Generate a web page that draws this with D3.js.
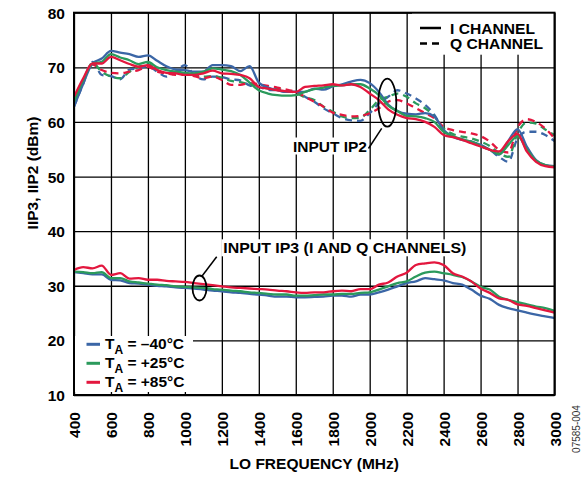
<!DOCTYPE html>
<html><head><meta charset="utf-8">
<script src="https://cdn.jsdelivr.net/npm/d3@7"></script>
<style>
body{margin:0;background:#fff}
svg text{font-family:"Liberation Sans",Arial,Helvetica,sans-serif;font-weight:bold;fill:#000}
</style>
</head><body>
<svg id="c" width="585" height="477"></svg>
<script>
// ---------- data ----------
const freqs = [400,450,500,550,600,650,700,750,800,850,900,950,1000,1050,1100,1150,1200,1250,1300,1350,1400,1450,1500,1550,1600,1650,1700,1750,1800,1850,1900,1950,2000,2050,2100,2150,2200,2250,2300,2350,2400,2450,2500,2550,2600,2650,2700,2750,2800,2850,2900,2950,3000];

const ip2I_m40 = [62.8,67,70.7,71.6,73,72.7,72.4,71.9,72.2,71.2,70.2,69.6,69.5,69.2,69.2,70.4,70.4,70.2,69.3,70.2,67.2,66.3,65.8,65.5,65.5,65.5,66.1,65.9,66.5,66.9,67.4,67.7,67.1,65.5,63.2,62,61.5,61.4,61.6,61,58.5,57.3,56.7,56.4,55.8,54.9,54,56.5,58.7,55.5,53,52.1,51.9];
const ip2I_p25 = [63.7,67.7,70.7,71,72.4,71.8,71.3,70.6,71,70,69.5,69.2,69,68.9,69.2,69.8,69.6,69.3,68.6,67.2,65.8,65.2,64.9,64.8,64.9,65.5,66,66.3,66.6,66.7,66.9,66.9,66.1,64.9,63,62,61.1,61,60.7,60,58.2,57.4,56.8,56.4,55.6,54.9,54.1,55.8,57.4,55,52.9,52.1,51.8];
const ip2I_p85 = [64.6,68,70.7,70.7,71.9,71.3,70.6,70.1,70.4,69.5,69,68.9,68.6,68.6,68.9,69.4,68.9,68.8,68.6,68,66.4,66.1,65.8,65.6,65.5,66.4,66.6,66.7,66.9,66.7,66.9,66.4,65.2,64,62.3,61.3,60.7,60.5,60,59.1,57.6,57.2,56.7,56.1,55.5,54.9,54.6,56.5,57.8,54.6,52.7,51.9,51.7];

const ip2Q_m40 = [62.8,67,71,68.6,68.4,67.8,69.6,69.8,70.2,69.2,68.3,69.2,70.4,68.6,67.8,68.3,68.2,67.8,67.6,66.7,66.4,65.9,65.8,65.5,65.5,64.6,63.7,62.5,61.6,60.7,60.3,60.2,61.6,63.4,64.6,65.8,65.2,64.3,63.1,61.3,58.5,57.3,56.8,56.4,55.6,54.9,53.6,52.7,57,58.2,58.2,57.6,56.5];
const ip2Q_p25 = [63.4,67.4,70.8,69.2,68.3,68,69.2,70.1,70.6,69.5,68.9,68.9,68.9,68.6,68.3,68.4,68.1,67.5,67.3,66.9,66.6,66.1,66,65.7,65.3,64.5,64,62.8,61.9,61,60.7,60.8,62.2,64,64.6,65.2,64.6,63.4,62.5,61,58.8,57.8,57.3,57,56.4,55.6,54.3,53.6,57.9,59.9,59.7,58.6,57.6];
const ip2Q_p85 = [64.3,67.7,70.5,69.5,69,68.9,69.2,69.5,70.1,69.2,68.9,68.6,68.8,68.4,68,68.3,67.7,66.8,66.8,67.1,66.9,66.6,66.3,65.9,65.5,64.6,63.7,62.8,61.7,61.3,61,61.1,61.6,62.5,63.7,64,63.4,62.5,61.6,60.7,59.1,58.5,58.2,57.9,57.4,56.4,54.9,54.4,59,60.5,60,58.8,57];

const ip3_m40 = [32.5,32.3,32.1,32.1,31.1,31,30.5,30.4,30.2,30,29.9,29.7,29.6,29.5,29.3,29.1,29,28.8,28.7,28.5,28.4,28.2,28,28,27.9,27.9,27.95,28,28.2,28.2,28,28.4,28.4,28.8,29.3,29.9,30.5,30.8,31.4,31.2,31,30.5,30.2,29.3,28.2,27.6,26.5,25.9,25.5,25.1,24.7,24.4,24.1];
const ip3_p25 = [32.6,32.5,32.3,32.5,31.4,31.4,30.8,30.6,30.4,30.2,30.1,29.9,29.8,29.7,29.6,29.4,29.3,29.1,29,28.8,28.7,28.5,28.4,28.4,28.2,28.2,28.3,28.4,28.4,28.5,28.5,28.7,28.8,29.3,29.9,30.5,30.8,31.7,32.4,32.6,32.3,32,31.6,30.8,29.8,29.3,28,27.4,27,26.6,26.2,25.9,25.4];
const ip3_p85 = [32.9,33.4,33.2,33.7,32,32.3,31.3,31.4,31.1,31.1,30.9,30.8,30.7,30.5,30.3,30.1,29.9,29.7,29.6,29.5,29.4,29.3,29.1,29,28.8,28.7,28.8,28.8,29,29.1,29,29.4,29.4,30.2,30.6,31.7,32.4,33.8,34.1,34.3,33.8,32.3,31.7,30.8,29.5,28.7,27.7,27.4,26.6,26.3,25.9,25.5,25.1];

const xTicks = [400,600,800,1000,1200,1400,1600,1800,2000,2200,2400,2600,2800,3000];
const yTicks = [10,20,30,40,50,60,70,80];
const tempLabels = ["–40°C","+25°C","+85°C"];
const channelLabels = ["I CHANNEL","Q CHANNEL"];
const colors = ["#3b66a6","#2b9a5c","#e3173e"];

// ---------- chart ----------
const L=74, R=554.5, T=12.7, B=395;
const FONT = '"Liberation Sans",Arial,sans-serif';
const svg = d3.select("#c");
const x = d3.scaleLinear().domain([400,3000]).range([L,R]);
const y = d3.scaleLinear().domain([10,80]).range([B,T]);

// grid
const gx = svg.append("g").attr("transform",`translate(0,${B})`)
  .call(d3.axisBottom(x).tickValues(xTicks).tickSize(-(B-T)).tickFormat(""));
gx.select(".domain").remove();
gx.selectAll("line").attr("stroke","#000").attr("stroke-width",1.3);
const gy = svg.append("g").attr("transform",`translate(${L},0)`)
  .call(d3.axisLeft(y).tickValues(yTicks).tickSize(-(R-L)).tickFormat(""));
gy.select(".domain").remove();
gy.selectAll("line").attr("stroke","#000").attr("stroke-width",1.3);

// curves
const line = d3.line().x((d,i)=>x(freqs[i])).y(d=>y(d)).curve(d3.curveMonotoneX);
const dashed = [ip2Q_m40, ip2Q_p25, ip2Q_p85];
const solid = [ip2I_m40, ip2I_p25, ip2I_p85];
const ip3 = [ip3_m40, ip3_p25, ip3_p85];
dashed.forEach((s,k)=>svg.append("path").attr("d",line(s)).attr("fill","none")
  .attr("stroke",colors[k]).attr("stroke-width",2.3).attr("stroke-dasharray","7,5"));
solid.forEach((s,k)=>svg.append("path").attr("d",line(s)).attr("fill","none")
  .attr("stroke",colors[k]).attr("stroke-width",2.3));
ip3.forEach((s,k)=>svg.append("path").attr("d",line(s)).attr("fill","none")
  .attr("stroke",colors[k]).attr("stroke-width",2.3));

// channel legend
svg.append("rect").attr("x",412).attr("y",T).attr("width",R-412).attr("height",42).attr("fill","#fff");
[0,1].forEach(i=>{
  const yy = 28 + i*15.6;
  svg.append("line").attr("x1",420).attr("x2",441).attr("y1",yy).attr("y2",yy)
    .attr("stroke","#000").attr("stroke-width",2.5).attr("stroke-dasharray", i ? "7,5" : null);
  svg.append("text").attr("x",450).attr("y",yy+5.5).attr("font-size",14.8)
    .attr("textLength", i ? 93 : 85).attr("lengthAdjust","spacingAndGlyphs").text(channelLabels[i]);
});

// temperature legend
svg.append("rect").attr("x",L+1).attr("y",336).attr("width",118).attr("height",56).attr("fill","#fff");
tempLabels.forEach((t,i)=>{
  const yy = 344.3 + i*19;
  svg.append("line").attr("x1",86.5).attr("x2",100).attr("y1",yy).attr("y2",yy)
    .attr("stroke",colors[i]).attr("stroke-width",3);
  const tx = svg.append("text").attr("x",105).attr("y",yy+5).attr("font-size",15.5);
  tx.append("tspan").text("T");
  tx.append("tspan").attr("font-size",12).attr("dy",5).text("A");
  tx.append("tspan").attr("dy",-5).text(" = " + t);
});

// annotations
const ip2Txt = svg.append("text").attr("x",367).attr("y",151.5).attr("font-size",15.5)
  .attr("text-anchor","end").text("INPUT IP2");
let bb = ip2Txt.node().getBBox();
svg.insert("rect", () => ip2Txt.node()).attr("x",bb.x-2).attr("y",bb.y).attr("width",bb.width+4).attr("height",bb.height).attr("fill","#fff");
svg.append("line").attr("x1",368.5).attr("y1",148.5).attr("x2",381.7).attr("y2",128.3).attr("stroke","#000").attr("stroke-width",1.5);
svg.append("ellipse").attr("cx",387.3).attr("cy",102.7).attr("rx",9).attr("ry",24)
  .attr("fill","none").attr("stroke","#000").attr("stroke-width",1.8);

const ip3Txt = svg.append("text").attr("x",223.3).attr("y",253.3).attr("font-size",15.5)
  .attr("textLength",243).attr("lengthAdjust","spacingAndGlyphs")
  .text("INPUT IP3 (I AND Q CHANNELS)");
bb = ip3Txt.node().getBBox();
svg.insert("rect", () => ip3Txt.node()).attr("x",bb.x-2).attr("y",bb.y).attr("width",bb.width+4).attr("height",bb.height).attr("fill","#fff");
svg.append("line").attr("x1",216.7).attr("y1",256.7).attr("x2",201.7).attr("y2",276.5).attr("stroke","#000").attr("stroke-width",1.5);
svg.append("ellipse").attr("cx",199.5).attr("cy",288).attr("rx",7).attr("ry",12.5)
  .attr("fill","none").attr("stroke","#000").attr("stroke-width",1.8);

// frame
svg.append("rect").attr("x",L).attr("y",T).attr("width",R-L).attr("height",B-T)
  .attr("fill","none").attr("stroke","#000").attr("stroke-width",2);

// axis labels
const ax = svg.append("g").attr("transform",`translate(0,${B})`)
  .call(d3.axisBottom(x).tickValues(xTicks).tickSize(0).tickFormat(d3.format("d")));
ax.select(".domain").remove();
ax.selectAll("text").attr("transform","rotate(-90)").attr("x",-17).attr("y",0).attr("dy","0.36em")
  .attr("text-anchor","end").attr("font-size",15.5)
  .style("font-family",FONT).style("font-weight","bold").attr("fill","#000");
const ay = svg.append("g").attr("transform",`translate(${L},0)`)
  .call(d3.axisLeft(y).tickValues(yTicks).tickSize(0).tickPadding(9));
ay.select(".domain").remove();
ay.selectAll("text").attr("font-size",15.5).attr("dy","0.36em")
  .style("font-family",FONT).style("font-weight","bold").attr("fill","#000");

svg.append("text").attr("x",(L+R)/2).attr("y",469).attr("text-anchor","middle").attr("font-size",15.5)
  .text("LO FREQUENCY (MHz)");
svg.append("text").attr("transform","translate(37.5,173) rotate(-90)").attr("text-anchor","middle")
  .attr("font-size",15.5).text("IIP3, IIP2 (dBm)");
svg.append("text").attr("transform","translate(580,429) rotate(-90)").attr("text-anchor","middle")
  .attr("font-size",10).style("font-weight","normal").style("fill","#333").text("07585-004");
</script>
</body></html>
